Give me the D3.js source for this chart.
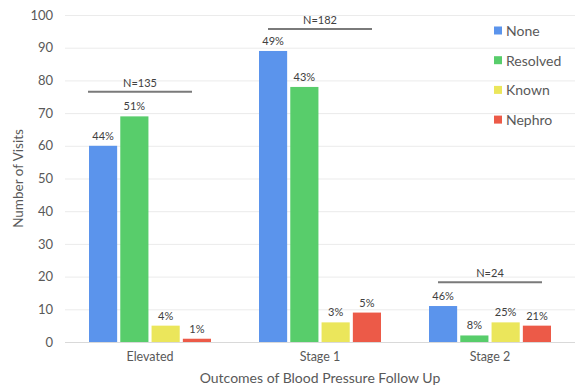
<!DOCTYPE html>
<html>
<head>
<meta charset="utf-8">
<script src="https://cdn.jsdelivr.net/npm/d3@7"></script>
<style>
  html, body { margin: 0; padding: 0; background: #fff; }
  svg { display: block; font-family: Lato, "Liberation Sans", sans-serif; }
</style>
</head>
<body>
<svg id="chart" width="575" height="387"></svg>
<script>
// Visit counts per blood-pressure category and follow-up outcome
const categories = ["Elevated", "Stage 1", "Stage 2"];
const seriesNames = ["None", "Resolved", "Known", "Nephro"];
const noneValues = [60, 89, 11];
const resolvedValues = [69, 78, 2];
const knownValues = [5, 6, 6];
const nephroValues = [1, 9, 5];
const percentLabels = [
  ["44%", "51%", "4%", "1%"],
  ["49%", "43%", "3%", "5%"],
  ["46%", "8%", "25%", "21%"]
];
const groupTotals = ["N=135", "N=182", "N=24"];
const totalLevels = [76.5, 95.7, 18.3];   // height of each N bracket, in visits
const totalShift = [-10, 0, 0];            // horizontal shift of bracket from group centre
const yTicks = [0, 10, 20, 30, 40, 50, 60, 70, 80, 90, 100];
const colors = ["#5b94ec", "#58cd6b", "#ebe65b", "#ec5a48"];

const seriesValues = [noneValues, resolvedValues, knownValues, nephroValues];
const rows = categories.map((c, i) => ({
  category: c,
  bars: seriesNames.map((s, j) => ({ series: s, value: seriesValues[j][i], label: percentLabels[i][j] }))
}));

const svg = d3.select("#chart");
const margin = { left: 65, right: 0, top: 15, bottom: 45 };
const W = 575, H = 387;

const x0 = d3.scaleBand().domain(categories).range([margin.left, W - margin.right]).paddingInner(0).paddingOuter(0);
const x1 = d3.scaleBand().domain(seriesNames).range([24, x0.bandwidth() - 24]).paddingInner(0.1).paddingOuter(0);
const y = d3.scaleLinear().domain([0, 100]).range([H - margin.bottom, margin.top]);
const color = d3.scaleOrdinal().domain(seriesNames).range(colors);

// Gridlines and y tick labels
const yAxis = d3.axisLeft(y).tickValues(yTicks).tickSize(-(W - margin.left - margin.right)).tickPadding(12);
const gy = svg.append("g").attr("transform", `translate(${margin.left},0)`).call(yAxis);
gy.select(".domain").remove();
gy.selectAll(".tick line").attr("stroke", d => d === 0 ? "#d9d9d9" : "#ebebeb").attr("stroke-width", 1);
gy.selectAll(".tick text").attr("fill", "#595959").style("font-size", "13px").style("font-family", "Lato, sans-serif");

// Category axis
const xAxis = d3.axisBottom(x0).tickSize(0).tickPadding(10);
const gx = svg.append("g").attr("transform", `translate(0,${y(0)})`).call(xAxis);
gx.select(".domain").remove();
gx.selectAll(".tick text").attr("fill", "#595959").style("font-size", "12.5px").style("font-family", "Lato, sans-serif");

// Bars
const groups = svg.append("g").selectAll("g").data(rows).join("g")
  .attr("transform", d => `translate(${x0(d.category)},0)`);

groups.selectAll("rect").data(d => d.bars).join("rect")
  .attr("x", d => x1(d.series))
  .attr("width", x1.bandwidth())
  .attr("y", d => y(d.value))
  .attr("height", d => y(0) - y(d.value))
  .attr("fill", d => color(d.series));

groups.selectAll("text.pct").data(d => d.bars).join("text")
  .attr("class", "pct")
  .attr("x", d => x1(d.series) + x1.bandwidth() / 2)
  .attr("y", d => y(d.value) - 6)
  .attr("text-anchor", "middle")
  .attr("fill", "#404040")
  .style("font-size", "11px")
  .text(d => d.label);

// Group total brackets
categories.forEach((c, i) => {
  const cx = x0(c) + x0.bandwidth() / 2 + totalShift[i];
  const yy = y(totalLevels[i]);
  svg.append("line")
    .attr("x1", cx - 52).attr("x2", cx + 52)
    .attr("y1", yy).attr("y2", yy)
    .attr("stroke", "#7a7a7a").attr("stroke-width", 2);
  svg.append("text")
    .attr("x", cx).attr("y", yy - 5)
    .attr("text-anchor", "middle")
    .attr("fill", "#404040")
    .style("font-size", "11px")
    .text(groupTotals[i]);
});

// Legend
const legend = svg.append("g").attr("transform", "translate(494,31)");
const li = legend.selectAll("g").data(seriesNames).join("g")
  .attr("transform", (d, i) => `translate(0,${i * 29.7})`);
li.append("rect").attr("x", 0).attr("y", -4.5).attr("width", 8).attr("height", 8).attr("fill", d => color(d));
li.append("text").attr("x", 12).attr("y", 0).attr("dy", "0.36em")
  .attr("fill", "#595959").style("font-size", "14px").text(d => d);

// Axis titles
svg.append("text")
  .attr("x", (margin.left + W - margin.right) / 2).attr("y", 383)
  .attr("text-anchor", "middle").attr("fill", "#595959")
  .style("font-size", "14px")
  .text("Outcomes of Blood Pressure Follow Up");

svg.append("text")
  .attr("transform", `translate(23,${(y(0) + y(100)) / 2}) rotate(-90)`)
  .attr("text-anchor", "middle").attr("fill", "#595959")
  .style("font-size", "13.5px")
  .text("Number of Visits");
</script>
</body>
</html>
